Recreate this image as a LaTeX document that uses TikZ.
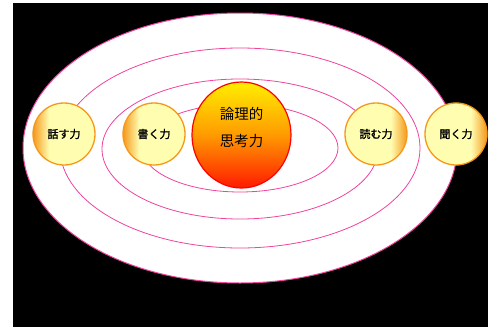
\documentclass[tikz,border=0pt]{standalone}
\usepackage{fontspec}
\usetikzlibrary{shapes.geometric}
\newfontfamily\jp{Noto Sans CJK JP}
\newfontfamily\jpb{Noto Sans CJK JP}[FakeBold=1.5]
\definecolor{orng}{HTML}{F5981A}
\definecolor{pyel}{HTML}{FFFDB0}
\definecolor{pinkl}{HTML}{F0449E}
\definecolor{cyel}{HTML}{FFEE00}
\definecolor{corg}{HTML}{FF9A00}
\definecolor{cred}{HTML}{FF1A00}
\pgfdeclarehorizontalshading{orbL}{100bp}{color(0bp)=(orng); color(25bp)=(orng); color(38bp)=(pyel); color(75bp)=(pyel); color(100bp)=(pyel)}
\pgfdeclarehorizontalshading{orbR}{100bp}{color(0bp)=(pyel); color(25bp)=(pyel); color(62bp)=(pyel); color(75bp)=(orng); color(100bp)=(orng)}
\pgfdeclareverticalshading{core}{100bp}{color(0bp)=(cred); color(25bp)=(cred); color(50bp)=(corg); color(75bp)=(cyel); color(100bp)=(cyel)}
\begin{document}
\begin{tikzpicture}[x=1pt,y=-1pt,
  orbit/.style={draw=pinkl, line width=0.8pt},
  ball/.style={circle, draw=orng, line width=1.3pt, minimum size=62pt, inner sep=0pt, font=\jpb\fontsize{11}{13}\selectfont},
  ballL/.style={ball, shading=orbL},
  ballR/.style={ball, shading=orbR}]
\useasboundingbox (0,0) rectangle (498,327);
\fill[white] (0,0) rectangle (498,327);
\fill[black] (13,3) rectangle (488,327);
\filldraw[fill=white, draw=pinkl, line width=1pt] (240,148) ellipse [x radius=217, y radius=135];
\draw[orbit] (240,148) ellipse [x radius=180, y radius=100];
\draw[orbit] (240,149) ellipse [x radius=138, y radius=70];
\draw[orbit] (240,148) ellipse [x radius=98, y radius=44];
\node[ellipse, draw=red, line width=1.2pt, shading=core, minimum width=99pt, minimum height=106pt, inner sep=0pt] (core) at (241.5,135) {};
\node[font=\jp\fontsize{14.5}{16}\selectfont, align=center] (t) at (241.5,127) {論理的\\[11pt]思考力};
\node[ballL] (hanasu) at (64,134) {話す力};
\node[ballL] (kaku) at (154,134) {書く力};
\node[ballR] (yomu) at (376,134) {読む力};
\node[ballR] (kiku) at (456,134) {聞く力};
\end{tikzpicture}
\end{document}
